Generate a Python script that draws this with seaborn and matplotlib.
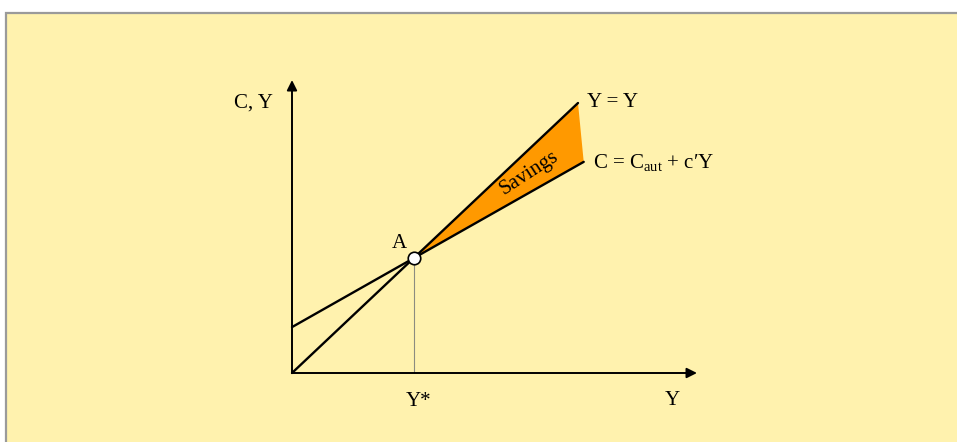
import numpy as np
import pandas as pd
import matplotlib.pyplot as plt
import seaborn as sns
from matplotlib.patches import Rectangle

# Keynesian cross: income line Y = Y and consumption line C = C_aut + c'Y
c_aut = 1.7          # autonomous consumption
mpc = 0.6            # marginal propensity to consume c'
y_star = 4.25        # equilibrium income (point A)

income_x = [0.0, 10.0]          # 45-degree line Y = Y
income_y = [0.0, 10.0]
cons_x = [0.0, 10.2]            # consumption line
cons_y = [1.7, 7.82]

x_axis_end = 14.16
y_axis_end = 10.85

bg = '#FFF2AE'
orange = '#FF9900'

sns.set_style("white")
plt.rcParams['font.family'] = ['Liberation Serif', 'DejaVu Serif']
plt.rcParams['mathtext.fontset'] = 'custom'
plt.rcParams['mathtext.rm'] = 'Liberation Serif'
plt.rcParams['text.color'] = 'black'

fig = plt.figure(figsize=(9.57, 4.42), dpi=100)
fig.patch.set_facecolor('white')
fig.add_artist(Rectangle((6 / 957, -0.1), 1.2, 429 / 442 + 0.1,
                         transform=fig.transFigure, facecolor=bg,
                         edgecolor='#9A9A9A', lw=1.6, zorder=-1))

ax = fig.add_axes([0, 0, 1, 1])
ax.set_facecolor('none')
ax.set_xlim(-292 / 28.6, 665 / 28.6)
ax.set_ylim(-69 / 27, 373 / 27)
ax.axis('off')

# savings wedge between the two lines, right of A
ax.fill([y_star, income_x[1], cons_x[1]], [y_star, income_y[1], cons_y[1]],
        color=orange, lw=0, zorder=1)

df_inc = pd.DataFrame({'Y': income_x, 'C': income_y})
df_con = pd.DataFrame({'Y': cons_x, 'C': cons_y})
sns.lineplot(data=df_inc, x='Y', y='C', color='black', lw=1.7, ax=ax, zorder=2)
sns.lineplot(data=df_con, x='Y', y='C', color='black', lw=1.7, ax=ax, zorder=2)

# drop line from A to Y*
ax.plot([y_star, y_star], [0, y_star], color='#8C8C80', lw=0.8, zorder=1.5)

# axes with arrows
arrow = dict(arrowstyle='-|>', lw=1.4, color='black', mutation_scale=15,
             shrinkA=0, shrinkB=0)
ax.annotate('', xy=(0, y_axis_end), xytext=(0, 0), arrowprops=arrow)
ax.annotate('', xy=(x_axis_end, 0), xytext=(0, 0), arrowprops=arrow)

ax.plot([y_star], [y_star], 'o', ms=9, mfc='white', mec='black', mew=1.2, zorder=4)

fs = 15
ax.text(-1.36, 9.85, 'C, Y', fontsize=fs, ha='center', va='baseline')
ax.text(10.31, 9.86, 'Y = Y', fontsize=fs, ha='left', va='baseline')
ax.text(10.52, 7.58, r'C = C$_{\mathregular{aut}}$ + c′Y', fontsize=fs,
        ha='left', va='baseline')
ax.text(3.76, 4.63, 'A', fontsize=fs, ha='center', va='baseline')
ax.text(4.44, -1.22, 'Y*', fontsize=fs, ha='center', va='baseline')
ax.text(13.29, -1.19, 'Y', fontsize=fs, ha='center', va='baseline')
ax.text(8.3, 7.4, 'Savings', fontsize=fs, rotation=33, rotation_mode='anchor',
        ha='center', va='center')

fig.savefig('out.png', dpi=100)
